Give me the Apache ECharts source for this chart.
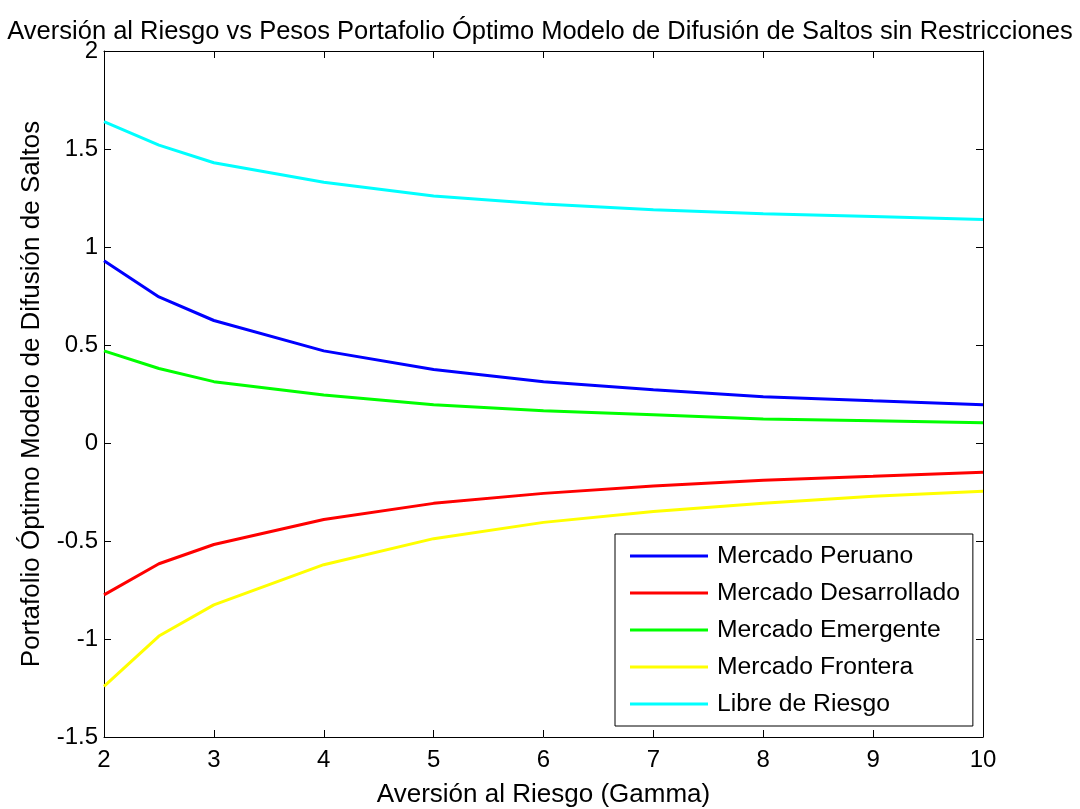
<!DOCTYPE html>
<html>
<head>
<meta charset="utf-8">
<script src="https://cdn.jsdelivr.net/npm/echarts@6/dist/echarts.min.js"></script>
<style>html,body{margin:0;padding:0;background:#fff}#c{width:1080px;height:809px}</style>
</head>
<body>
<div id="c"></div>
<script>
const gamma = [2, 2.5, 3, 4, 5, 6, 7, 8, 9, 10];
const peruano = [0.93, 0.745, 0.625, 0.47, 0.375, 0.313, 0.272, 0.236, 0.215, 0.195];
const desarrollado = [-0.775, -0.616, -0.518, -0.39, -0.308, -0.257, -0.22, -0.19, -0.17, -0.149];
const emergente = [0.47, 0.38, 0.313, 0.245, 0.195, 0.164, 0.144, 0.123, 0.113, 0.103];
const frontera = [-1.242, -0.985, -0.826, -0.621, -0.488, -0.405, -0.349, -0.308, -0.272, -0.246];
const libre = [1.64, 1.52, 1.43, 1.33, 1.26, 1.22, 1.19, 1.17, 1.155, 1.14];
const seriesNames = ['Mercado Peruano', 'Mercado Desarrollado', 'Mercado Emergente', 'Mercado Frontera', 'Libre de Riesgo'];
const seriesColors = ['#0000ff', '#ff0000', '#00ff00', '#ffff00', '#00ffff'];
const seriesData = [peruano, desarrollado, emergente, frontera, libre];

const font = 'Liberation Sans, Arial, sans-serif';
const chart = echarts.init(document.getElementById('c'), null, {renderer: 'canvas'});
const axisCommon = {
  axisLine: {show: true, onZero: false, lineStyle: {color: '#000', width: 1}},
  axisTick: {show: true, inside: true, length: 7, lineStyle: {color: '#000'}},
  splitLine: {show: false}
};
chart.setOption({
  animation: false,
  backgroundColor: '#fff',
  title: {
    text: 'Aversión al Riesgo vs Pesos Portafolio Óptimo Modelo de Difusión de Saltos sin Restricciones',
    left: 'center', top: 14,
    textStyle: {fontFamily: font, fontSize: 25.5, fontWeight: 'normal', color: '#000'}
  },
  grid: {left: 104, right: 97, top: 51, bottom: 72, outerBoundsMode: 'none', containLabel: false},
  legend: {
    orient: 'vertical', left: 615, top: 534,
    backgroundColor: '#fff', borderColor: '#000', borderWidth: 1, borderRadius: 0,
    padding: [9, 13, 9, 15],
    icon: 'rect', itemWidth: 78, itemHeight: 3, itemGap: 11,
    textStyle: {fontFamily: font, fontSize: 24.7, lineHeight: 26, color: '#000', padding: [0, 0, 0, 4]},
    data: seriesNames
  },
  xAxis: [
    Object.assign({}, axisCommon, {
      type: 'value', min: 2, max: 10, interval: 1, position: 'bottom',
      name: 'Aversión al Riesgo (Gamma)', nameLocation: 'middle', nameGap: 45,
      nameTextStyle: {fontFamily: font, fontSize: 26, color: '#000'},
      axisLabel: {fontFamily: font, fontSize: 24, color: '#000', margin: 11}
    }),
    Object.assign({}, axisCommon, {
      type: 'value', min: 2, max: 10, interval: 1, position: 'top',
      axisLabel: {show: false}
    })
  ],
  yAxis: [
    Object.assign({}, axisCommon, {
      type: 'value', min: -1.5, max: 2, interval: 0.5, position: 'left',
      name: 'Portafolio Óptimo Modelo de Difusión de Saltos', nameLocation: 'middle', nameGap: 59,
      nameTextStyle: {fontFamily: font, fontSize: 26, color: '#000'},
      axisLabel: {fontFamily: font, fontSize: 24, color: '#000', margin: 6, padding: [6, 0, 0, 0]}
    }),
    Object.assign({}, axisCommon, {
      type: 'value', min: -1.5, max: 2, interval: 0.5, position: 'right',
      axisLabel: {show: false}
    })
  ],
  series: seriesNames.map((n, i) => ({
    name: n, type: 'line', xAxisIndex: 0, yAxisIndex: 0,
    data: gamma.map((g, j) => [g, seriesData[i][j]]),
    symbol: 'none', color: seriesColors[i],
    lineStyle: {width: 3, color: seriesColors[i]}
  }))
});
</script>
</body>
</html>
